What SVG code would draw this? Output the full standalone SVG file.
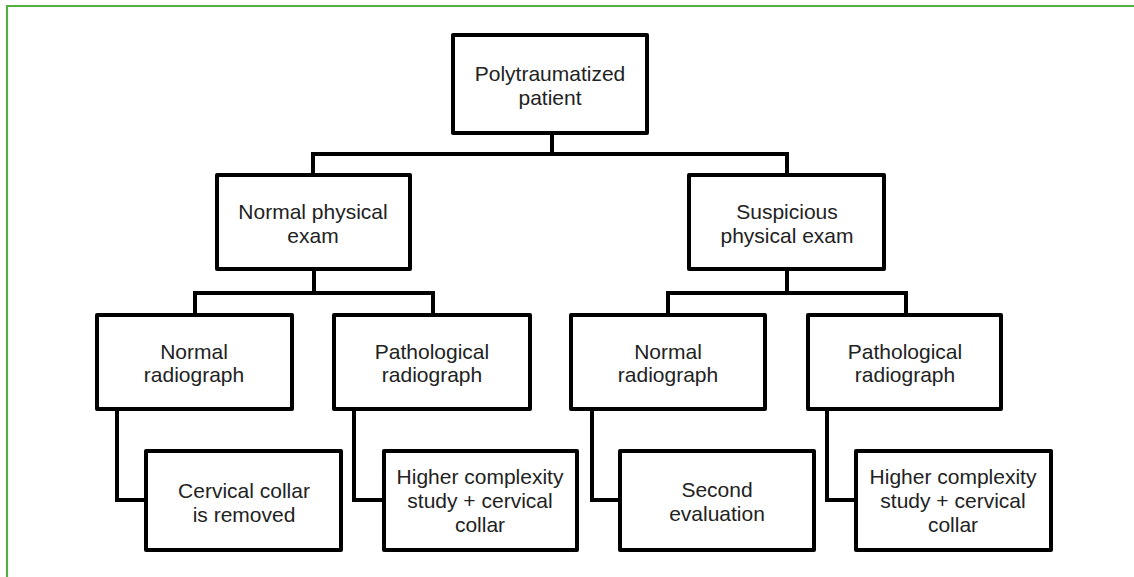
<svg xmlns="http://www.w3.org/2000/svg" width="1134" height="577" viewBox="0 0 1134 577">
<style>
.box{fill:#fff;stroke:#000;stroke-width:4;stroke-linejoin:round}
.con{fill:none;stroke:#000;stroke-width:4;stroke-linejoin:miter}
text{font-family:"Liberation Sans",Arial,sans-serif;font-size:21px;fill:#222;text-anchor:middle}
</style>
<rect width="1134" height="577" fill="#fff"/>
<path d="M7,577 V6 H1134" fill="none" stroke="#55ad45" stroke-width="2.2"/>
<g id="connectors">
<path class="con" d="M552,135 V154 M313,175 V154 H787 V175"/>
<path class="con" d="M314,271 V293 M195,315 V293 H433 V315"/>
<path class="con" d="M787,271 V293 M668,315 V293 H906 V315"/>
<path class="con" d="M117,411 V500 H146"/>
<path class="con" d="M354,411 V500 H384"/>
<path class="con" d="M592,411 V500 H620"/>
<path class="con" d="M827,411 V500 H856"/>
</g>
<g id="n-poly"><rect class="box" x="453" y="35" width="194" height="98"/><text x="550" y="81">Polytraumatized</text><text x="550" y="105">patient</text></g>
<g id="n-normal-exam"><rect class="box" x="217" y="175" width="193" height="94"/><text x="313" y="219">Normal physical</text><text x="313" y="243">exam</text></g>
<g id="n-susp-exam"><rect class="box" x="689" y="175" width="195" height="94"/><text x="787" y="219">Suspicious</text><text x="787" y="243">physical exam</text></g>
<g id="n-normal-rad-1"><rect class="box" x="97" y="315" width="195" height="94"/><text x="194" y="359">Normal</text><text x="194" y="382">radiograph</text></g>
<g id="n-path-rad-1"><rect class="box" x="334" y="315" width="196" height="94"/><text x="432" y="359">Pathological</text><text x="432" y="382">radiograph</text></g>
<g id="n-normal-rad-2"><rect class="box" x="571" y="315" width="194" height="94"/><text x="668" y="359">Normal</text><text x="668" y="382">radiograph</text></g>
<g id="n-path-rad-2"><rect class="box" x="808" y="315" width="193" height="94"/><text x="905" y="359">Pathological</text><text x="905" y="382">radiograph</text></g>
<g id="n-collar-removed"><rect class="box" x="146" y="451" width="195" height="99"/><text x="244" y="498">Cervical collar</text><text x="244" y="522">is removed</text></g>
<g id="n-higher-1"><rect class="box" x="384" y="451" width="193" height="99"/><text x="480" y="484">Higher complexity</text><text x="480" y="508">study + cervical</text><text x="480" y="532">collar</text></g>
<g id="n-second"><rect class="box" x="620" y="451" width="194" height="99"/><text x="717" y="497">Second</text><text x="717" y="521">evaluation</text></g>
<g id="n-higher-2"><rect class="box" x="856" y="451" width="195" height="99"/><text x="953" y="484">Higher complexity</text><text x="953" y="508">study + cervical</text><text x="953" y="532">collar</text></g>
</svg>
